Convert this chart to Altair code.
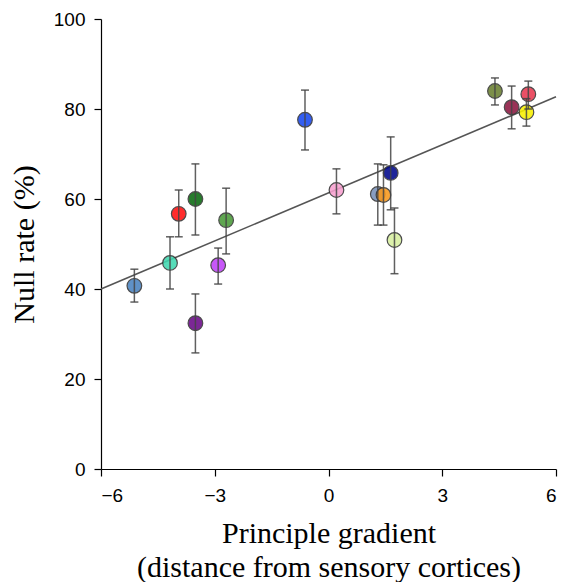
import altair as alt
import pandas as pd

regions = ["r01","r02","r03","r04","r05","r06","r07","r08","r09","r10","r11","r12","r13","r14","r15","r16","r17"]
gradient = [-5.12,-4.18,-3.51,-3.95,-3.51,-2.70,-2.91,-0.62,0.21,1.30,1.45,1.64,1.74,4.39,4.83,5.27,5.22]
null_rate = [40.7,45.8,32.4,56.7,60.0,55.3,45.3,77.6,62.0,61.1,60.9,65.8,50.9,84.0,80.4,83.3,79.3]
err_low = [37.1,40.0,25.8,51.6,52.0,47.8,41.1,70.9,56.7,54.2,54.2,57.6,43.4,80.9,75.6,80.0,76.2]
err_high = [44.4,51.6,38.9,62.0,67.8,62.4,49.1,84.2,66.7,67.8,67.6,73.8,58.0,86.9,85.1,86.2,82.3]
colors = ["#4a82c0","#40d8b0","#6a0a88","#ff1010","#0a6a10","#4a9a38","#c040f8","#1848f0","#f8a0d0",
          "#7890b8","#f8981c","#00088c","#d8f0a0","#6a8030","#8c1840","#e83850","#f8f000"]

df = pd.DataFrame({"region": regions, "g": gradient, "rate": null_rate, "lo": err_low, "hi": err_high})

xs = alt.Scale(domain=[-6, 6], nice=False, zero=False)
ys = alt.Scale(domain=[0, 100], nice=False)

xaxis = alt.Axis(values=[-6, -3, 0, 3, 6], title=["Principle gradient", "(distance from sensory cortices)"],
                 labelExpr="replace(datum.label, '-', '\u2212')")
yaxis = alt.Axis(values=[0, 20, 40, 60, 80, 100], title="Null rate (%)")

base = alt.Chart(df)

line = base.transform_regression("g", "rate", extent=[-6, 6]).mark_line(
    color="#555555", strokeWidth=1.6
).encode(x=alt.X("g:Q", scale=xs, axis=xaxis), y=alt.Y("rate:Q", scale=ys, axis=yaxis))

points = base.mark_circle(size=215, opacity=0.88, stroke="#333333", strokeWidth=1.2).encode(
    x=alt.X("g:Q", scale=xs),
    y=alt.Y("rate:Q", scale=ys),
    color=alt.Color("region:N", scale=alt.Scale(domain=regions, range=colors), legend=None),
)

bars = base.mark_rule(color="#444444", strokeWidth=1.5, opacity=0.85).encode(
    x=alt.X("g:Q", scale=xs), y=alt.Y("lo:Q", scale=ys), y2="hi:Q"
)
cap_lo = base.mark_tick(orient="horizontal", size=8, thickness=1.5, color="#444444", opacity=0.85).encode(
    x=alt.X("g:Q", scale=xs), y=alt.Y("lo:Q", scale=ys)
)
cap_hi = base.mark_tick(orient="horizontal", size=8, thickness=1.5, color="#444444", opacity=0.85).encode(
    x=alt.X("g:Q", scale=xs), y=alt.Y("hi:Q", scale=ys)
)

chart = alt.layer(line, points, bars, cap_lo, cap_hi).properties(
    width=455, height=450,
    autosize=alt.AutoSizeParams(type="none"),
    padding={"left": 93, "top": 11, "right": 5, "bottom": 113},
).configure_view(stroke=None).configure_axis(
    grid=False,
    domainColor="black", tickColor="black", domainWidth=1.2, tickWidth=1.2, tickSize=7,
    labelFont="Liberation Sans", labelFontSize=19, labelColor="black",
    titleFont="Liberation Serif", titleFontSize=30, titleFontWeight="normal", titleColor="black",
).configure_axisX(titlePadding=13, titleLineHeight=34, labelPadding=10).configure_axisY(
    titlePadding=14, labelPadding=9)

chart.save("out.html", embed_options={"renderer": "svg", "actions": False})
